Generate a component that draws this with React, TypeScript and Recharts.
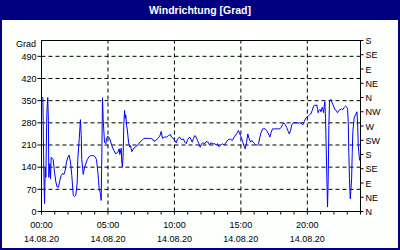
import React from 'react';
import { LineChart, Line, XAxis, YAxis, CartesianGrid, ReferenceLine } from 'recharts';

const hours = [
  0.0, 0.1, 0.13, 0.17, 0.23, 0.28, 0.33, 0.4, 0.47, 0.52, 0.55, 0.62, 0.68, 0.73, 0.88, 0.98,
  1.08, 1.18, 1.28, 1.38, 1.48, 1.58, 1.68, 1.78, 1.88, 1.98, 2.08, 2.18, 2.28, 2.39, 2.48, 2.58,
  2.69, 2.73, 2.84, 2.93, 2.99, 3.03, 3.14, 3.24, 3.33, 3.44, 3.59, 3.78, 3.99, 4.14, 4.24, 4.29,
  4.34, 4.44, 4.49, 4.54, 4.59, 4.64, 4.74, 4.84, 4.89, 4.99, 5.14, 5.29, 5.44, 5.59, 5.74, 5.85,
  5.89, 6.0, 6.04, 6.09, 6.15, 6.19, 6.25, 6.3, 6.34, 6.4, 6.45, 6.55, 6.64, 6.7, 6.79, 6.95,
  7.1, 7.25, 7.4, 7.55, 7.7, 7.95, 8.2, 8.35, 8.45, 8.6, 8.75, 8.9, 9.01, 9.1, 9.25, 9.41,
  9.56, 9.71, 9.78, 9.93, 10.03, 10.14, 10.23, 10.38, 10.53, 10.68, 10.78, 10.89, 10.99, 11.14, 11.23, 11.34,
  11.44, 11.54, 11.64, 11.74, 11.84, 11.94, 12.04, 12.14, 12.29, 12.39, 12.54, 12.64, 12.74, 12.89, 13.04, 13.14,
  13.24, 13.34, 13.49, 13.6, 13.75, 13.9, 14.05, 14.2, 14.35, 14.5, 14.67, 14.82, 14.97, 15.12, 15.22, 15.33,
  15.43, 15.52, 15.63, 15.73, 15.82, 15.93, 16.03, 16.13, 16.23, 16.33, 16.43, 16.53, 16.63, 16.73, 16.83, 16.93,
  17.08, 17.18, 17.28, 17.38, 17.53, 17.73, 17.93, 18.04, 18.13, 18.23, 18.34, 18.44, 18.53, 18.64, 18.74, 18.83,
  18.94, 19.09, 19.24, 19.39, 19.49, 19.56, 19.66, 19.77, 19.86, 19.96, 20.07, 20.17, 20.26, 20.37, 20.47, 20.57,
  20.67, 20.71, 20.77, 20.82, 20.86, 20.97, 21.02, 21.12, 21.17, 21.22, 21.27, 21.32, 21.37, 21.42, 21.47, 21.52,
  21.57, 21.62, 21.67, 21.77, 21.87, 21.97, 22.07, 22.17, 22.27, 22.37, 22.47, 22.57, 22.67, 22.78, 22.88, 22.98,
  23.03, 23.08, 23.12, 23.17, 23.23, 23.27, 23.33, 23.38, 23.42, 23.53, 23.63, 23.73, 23.78, 23.83, 23.93,
];

const degrees = [
  360, 360, 277, 140, 25, 140, 108, 310, 360, 287, 108, 151, 103, 171, 164, 124,
  93, 77, 77, 98, 114, 120, 117, 129, 156, 171, 178, 156, 114, 51, 47, 51,
  93, 164, 230, 290, 240, 164, 117, 140, 150, 164, 174, 177, 175, 164, 124, 98,
  72, 56, 35, 187, 359, 290, 219, 214, 231, 238, 229, 208, 193, 182, 187, 198,
  180, 200, 156, 140, 187, 272, 319, 294, 305, 272, 261, 219, 203, 208, 189, 200,
  205, 210, 219, 224, 231, 231, 231, 229, 222, 224, 231, 238, 253, 231, 235, 235,
  240, 243, 235, 231, 224, 217, 229, 235, 227, 229, 219, 214, 227, 235, 229, 219,
  231, 240, 235, 224, 214, 203, 214, 217, 214, 221, 219, 210, 217, 214, 214, 210,
  214, 205, 210, 214, 210, 219, 227, 229, 224, 235, 245, 256, 240, 224, 208, 198,
  219, 245, 229, 219, 224, 219, 214, 210, 210, 214, 235, 250, 261, 261, 261, 256,
  245, 235, 250, 261, 261, 261, 261, 266, 274, 280, 274, 266, 256, 245, 256, 274,
  280, 280, 280, 279, 280, 277, 274, 284, 293, 298, 301, 305, 308, 319, 333, 336,
  334, 337, 322, 312, 319, 322, 315, 329, 322, 312, 333, 347, 293, 198, 103, 14,
  103, 272, 349, 354, 343, 333, 322, 319, 312, 319, 322, 324, 322, 329, 333, 329,
  322, 282, 187, 103, 40, 63, 103, 187, 250, 298, 305, 315, 282, 208, 161,
];

const leftTicks = [0, 70, 140, 210, 280, 350, 420, 490];
const rightTicks = [0, 45, 90, 135, 180, 225, 270, 315, 360, 405, 450, 495, 540];
const rightLabels = ['N', 'NE', 'E', 'SE', 'S', 'SW', 'W', 'NW', 'N', 'NE', 'E', 'SE', 'S'];
const hourTicks = Array.from({ length: 25 }, (_, i) => i);
const majorHours = [5, 10, 15, 20];
const timeLabels: Record<number, string> = { 0: '00:00', 5: '05:00', 10: '10:00', 15: '15:00', 20: '20:00' };
const dateLabel = '14.08.20';

const data = hours.map((h, i) => ({ h, v: degrees[i] }));

const FONT = '"Liberation Sans", Arial, sans-serif';

const XTick = (props: any) => {
  const { x, y, payload } = props;
  const label = timeLabels[payload.value];
  if (!label) return null;
  return (
    <g>
      <text x={x} y={y + 11} textAnchor="middle" fontSize={9} fontFamily={FONT} fill="#000">
        {label}
      </text>
      <text x={x} y={y + 25} textAnchor="middle" fontSize={9} fontFamily={FONT} fill="#000">
        {dateLabel}
      </text>
    </g>
  );
};

const RTick = (props: any) => {
  const { x, y, payload, index } = props;
  let i = rightTicks.indexOf(payload.value);
  if (i < 0) i = index;
  return (
    <text x={x} y={y + 3.5} textAnchor="start" fontSize={9} fontFamily={FONT} fill="#000">
      {rightLabels[i]}
    </text>
  );
};

export default function App() {
  return (
    <div style={{ position: 'absolute', left: 0, top: 0, width: 400, height: 250, background: '#000080' }}>
      <div
        style={{
          position: 'absolute', left: 0, top: 2, width: 400, height: 16, textAlign: 'center',
          color: '#fff', fontFamily: FONT, fontWeight: 'bold', fontSize: 10.5, lineHeight: '16px',
        }}
      >
        Windrichtung [Grad]
      </div>
      <div style={{ position: 'absolute', left: 2, top: 20, width: 396, height: 228, background: '#fcfffc' }} />
      <div
        style={{
          position: 'absolute', left: 0, top: 38, width: 36, textAlign: 'right',
          fontFamily: FONT, fontSize: 9, lineHeight: '12px', color: '#000',
        }}
      >
        Grad
      </div>
      <div style={{ position: 'absolute', left: 0, top: 0 }}>
        <LineChart width={400} height={250} data={data} margin={{ top: 40.5, right: 0, bottom: 0, left: 1.5 }}>
          <CartesianGrid vertical={false} stroke="#000" strokeDasharray="4 3" yAxisId="l" />
          <XAxis
            dataKey="h"
            type="number"
            domain={[0, 24]}
            ticks={hourTicks}
            interval={0}
            height={38.5}
            tickSize={3}
            tickMargin={2}
            stroke="#000"
            tick={<XTick />}
          />
          <YAxis
            yAxisId="l"
            orientation="left"
            width={40}
            domain={[0, 540]}
            ticks={leftTicks}
            interval={0}
            tickSize={4}
            tickMargin={1}
            stroke="#000"
            tick={{ fontSize: 9, fontFamily: FONT, fill: '#000' }}
          />
          <YAxis
            yAxisId="r"
            orientation="right"
            width={39.5}
            domain={[0, 540]}
            type="number"
            allowDataOverflow
            ticks={rightTicks}
            interval={0}
            tickSize={3}
            tickMargin={2}
            stroke="#000"
            tick={<RTick />}
          />
          {majorHours.map((h) => (
            <ReferenceLine key={h} x={h} yAxisId="l" stroke="#000" strokeDasharray="4 3" />
          ))}
          <ReferenceLine y={540} yAxisId="l" stroke="#000" />
          <Line
            yAxisId="l"
            type="linear"
            dataKey="v"
            stroke="#0000ff"
            strokeWidth={1}
            dot={false}
            isAnimationActive={false}
          />
        </LineChart>
      </div>
    </div>
  );
}
